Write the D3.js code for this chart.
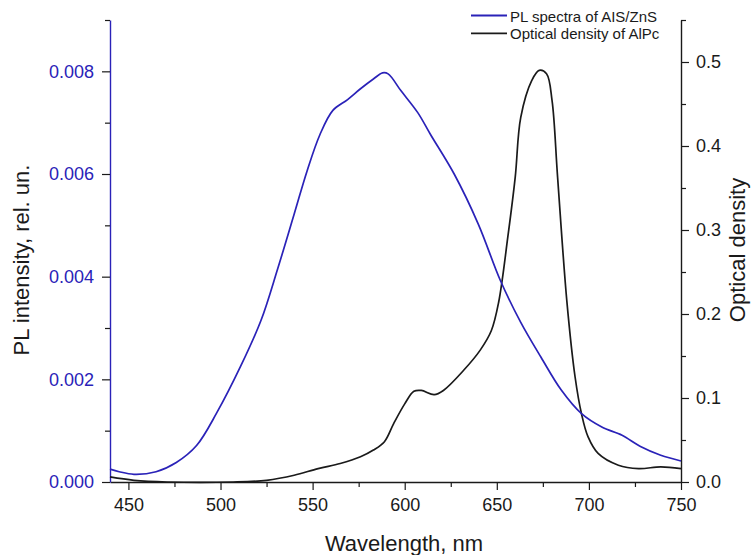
<!DOCTYPE html>
<html>
<head>
<meta charset="utf-8">
<script src="https://cdn.jsdelivr.net/npm/d3@7"></script>
<style>
  body { margin: 0; background: #fff; }
  svg text { font-family: "Liberation Sans", Arial, sans-serif; }
</style>
</head>
<body>
<div class="canvas"></div>
<script>
// PL spectrum of AIS/ZnS (left axis)
const plWavelength = [440, 445, 453, 465, 476, 487, 498, 511, 522, 531, 540, 547, 554, 561, 569, 576, 583, 588, 591, 598, 607, 614, 627, 640, 652, 663, 674, 685, 696, 707, 718, 728, 739, 750];
const plIntensity = [0.00025, 0.0002, 0.00015, 0.0002, 0.00038, 0.00071, 0.00135, 0.00226, 0.00315, 0.00415, 0.00522, 0.00606, 0.00677, 0.00724, 0.00745, 0.00766, 0.00785, 0.00797, 0.00795, 0.00762, 0.00720, 0.00677, 0.00599, 0.00502, 0.00392, 0.00311, 0.00243, 0.00179, 0.00133, 0.00107, 0.00091, 0.00069, 0.00052, 0.00041];

// optical density of AlPc (right axis)
const odWavelength = [440, 453, 471, 507, 525, 540, 553, 565, 576, 583, 589, 594, 600, 605, 609, 616, 621, 632, 641, 647, 651, 656, 660, 663, 669, 673, 677, 680, 683, 688, 692.5, 696, 699.5, 705, 716, 727, 739, 750];
const odValue = [0.006, 0.002, 0.0, 0.0, 0.002, 0.008, 0.016, 0.022, 0.030, 0.038, 0.048, 0.0695, 0.093, 0.108, 0.109, 0.104, 0.109, 0.133, 0.157, 0.180, 0.214, 0.292, 0.363, 0.434, 0.478, 0.490, 0.486, 0.454, 0.363, 0.216, 0.125, 0.081, 0.054, 0.034, 0.020, 0.016, 0.018, 0.016];

const xTicks = [450, 500, 550, 600, 650, 700, 750];
const xMinor = [475, 525, 575, 625, 675, 725];
const plTicks = [0, 0.002, 0.004, 0.006, 0.008];
const plMinor = [0.001, 0.003, 0.005, 0.007, 0.009];
const odTicks = [0, 0.1, 0.2, 0.3, 0.4, 0.5];
const odMinor = [0.05, 0.15, 0.25, 0.35, 0.45, 0.55];

const blue = '#2a22b8';
const ink = '#1a1a1a';

const svg = d3.select('.canvas')
    .append('svg')
    .attr('width', 753)
    .attr('height', 555);

const margin = { top: 20, right: 72, bottom: 73, left: 110 };
const graphWidth = 753 - margin.left - margin.right;
const graphHeight = 555 - margin.top - margin.bottom;

const graph = svg.append('g')
    .attr('transform', `translate(${margin.left},${margin.top})`);

const x = d3.scaleLinear().domain([440, 750]).range([0, graphWidth]);
const yPL = d3.scaleLinear().domain([0, 0.009]).range([graphHeight, 0]);
const yOD = d3.scaleLinear().domain([0, 0.55]).range([graphHeight, 0]);

// bottom axis
const xAxisGroup = graph.append('g').attr('transform', `translate(0,${graphHeight})`);
xAxisGroup.call(d3.axisBottom(x).tickValues(xTicks).tickSize(8).tickSizeOuter(0).tickPadding(8));
xAxisGroup.append('g').call(d3.axisBottom(x).tickValues(xMinor).tickSize(5).tickFormat(''))
    .select('.domain').remove();
xAxisGroup.selectAll('text').attr('font-size', 18).attr('fill', ink);

// left axis (blue)
const yAxisGroup = graph.append('g');
yAxisGroup.call(d3.axisLeft(yPL).tickValues(plTicks).tickSize(8).tickSizeOuter(0).tickPadding(8).tickFormat(d3.format('.3f')));
yAxisGroup.append('g').call(d3.axisLeft(yPL).tickValues(plMinor).tickSize(5).tickFormat(''))
    .select('.domain').remove();
yAxisGroup.selectAll('text').attr('font-size', 18).attr('fill', blue);

// right axis
const y2AxisGroup = graph.append('g').attr('transform', `translate(${graphWidth},0)`);
y2AxisGroup.call(d3.axisRight(yOD).tickValues(odTicks).tickSize(8).tickSizeOuter(0).tickPadding(7).tickFormat(d3.format('.1f')));
y2AxisGroup.append('g').call(d3.axisRight(yOD).tickValues(odMinor).tickSize(5).tickFormat(''))
    .select('.domain').remove();
y2AxisGroup.selectAll('text').attr('font-size', 18).attr('fill', ink);

graph.selectAll('.tick line').attr('stroke', ink).attr('stroke-width', 1.2);
graph.selectAll('.domain').attr('stroke', ink).attr('stroke-width', 1.4);
yAxisGroup.select('.domain').attr('stroke', blue);

// curves
const plLine = d3.line()
    .x((d, i) => x(plWavelength[i]))
    .y(d => yPL(d))
    .curve(d3.curveCatmullRom.alpha(0.5));
const odLine = d3.line()
    .x((d, i) => x(odWavelength[i]))
    .y(d => yOD(d))
    .curve(d3.curveCatmullRom.alpha(0.5));

graph.append('path').datum(odValue)
    .attr('d', odLine).attr('fill', 'none').attr('stroke', ink).attr('stroke-width', 1.7);
graph.append('path').datum(plIntensity)
    .attr('d', plLine).attr('fill', 'none').attr('stroke', blue).attr('stroke-width', 1.7);

// axis titles
svg.append('text')
    .attr('x', 404).attr('y', 551)
    .attr('text-anchor', 'middle').attr('font-size', 22).attr('fill', ink)
    .text('Wavelength, nm');
svg.append('text')
    .attr('transform', 'translate(29,260) rotate(-90)')
    .attr('text-anchor', 'middle').attr('font-size', 22).attr('fill', ink)
    .text('PL intensity, rel. un.');
svg.append('text')
    .attr('transform', 'translate(745,250) rotate(-90)')
    .attr('text-anchor', 'middle').attr('font-size', 22).attr('fill', ink)
    .text('Optical density');

// legend
const legend = svg.append('g');
const legendItems = [
    { label: 'PL spectra of AIS/ZnS', color: blue },
    { label: 'Optical density of AlPc', color: ink }
];
legendItems.forEach((item, i) => {
    const y = 15.5 + i * 17.8;
    legend.append('line')
        .attr('x1', 471).attr('x2', 507).attr('y1', y).attr('y2', y)
        .attr('stroke', item.color).attr('stroke-width', 1.8);
    legend.append('text')
        .attr('x', 510).attr('y', y + 6)
        .attr('font-size', 15).attr('fill', ink)
        .text(item.label);
});
</script>
</body>
</html>
